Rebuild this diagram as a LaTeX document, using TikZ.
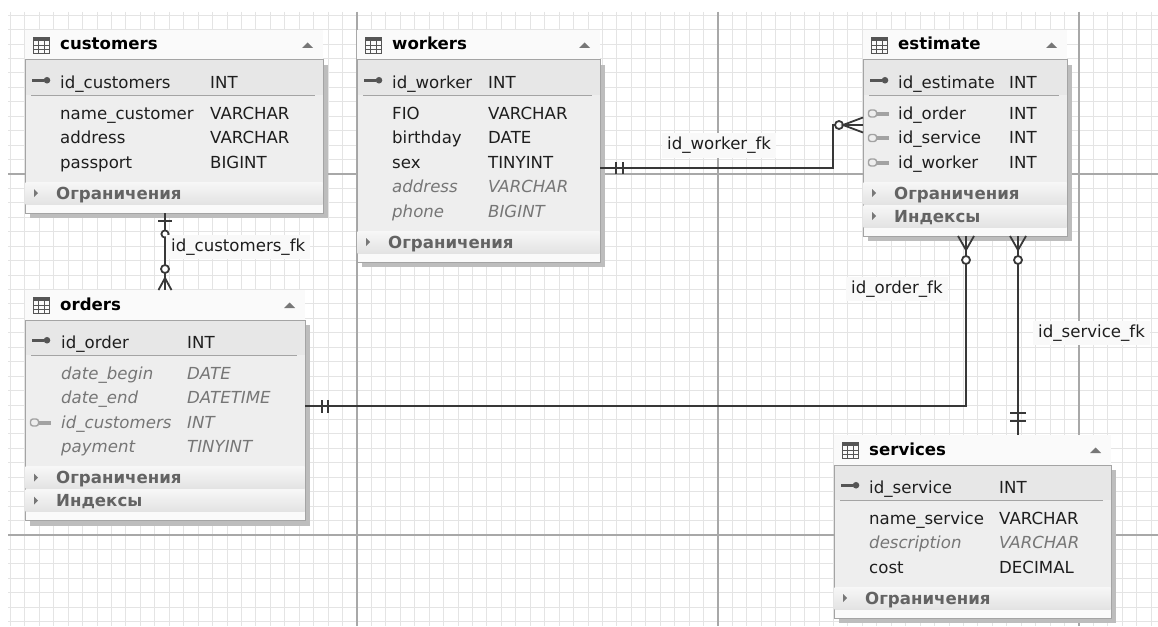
\documentclass[tikz,border=0pt]{standalone}
\usepackage{fontspec}
\setmainfont{DejaVu Sans}[ItalicFont={DejaVu Sans Oblique},BoldFont={DejaVu Sans Bold},BoldItalicFont={DejaVu Sans Bold Oblique}]
\usetikzlibrary{calc}
\definecolor{gridminor}{HTML}{E4E4E4}
\definecolor{gridmajor}{HTML}{A8A8A8}
\definecolor{tborder}{HTML}{A4A4A4}
\definecolor{tbodyc}{HTML}{EEEEEE}
\definecolor{tidrow}{HTML}{E7E7E7}
\definecolor{tshadowc}{HTML}{BDBDBD}
\definecolor{theadc}{HTML}{FAFAFA}
\definecolor{bandtop}{HTML}{F7F7F7}
\definecolor{bandbot}{HTML}{E3E3E3}
\definecolor{txt}{HTML}{1E1E1E}
\definecolor{txtgray}{HTML}{767676}
\definecolor{bandtxt}{HTML}{636363}
\definecolor{iconc}{HTML}{555555}
\definecolor{fkc}{HTML}{A2A2A2}
\definecolor{arrowc}{HTML}{777777}
\definecolor{linec}{HTML}{383838}
\definecolor{lblbg}{HTML}{F9F9F9}
\tikzset{
  fnt/.style={font=\fontsize{16.6}{20}\selectfont},
  fld/.style={inner sep=0, anchor=base west, text=txt, font=\fontsize{16.6}{20}\selectfont},
  fldi/.style={inner sep=0, anchor=base west, text=txtgray, font=\fontsize{16.6}{20}\selectfont\itshape},
  ttl/.style={inner sep=0, anchor=base west, text=black, font=\fontsize{16.6}{20}\selectfont\bfseries},
  bnd/.style={inner sep=0, anchor=base west, text=bandtxt, font=\fontsize{16.6}{20}\selectfont\bfseries},
  headbox/.style={fill=theadc, inner sep=0, outer sep=0, minimum height=30pt, anchor=north west},
  bodybox/.style={draw=tborder, fill=tbodyc, line width=1, inner sep=0, outer sep=0, anchor=north west},
  conn/.style={draw=linec, line width=1.8},
  lbl/.style={fill=lblbg, text=txt, inner xsep=5, inner ysep=4, anchor=west, font=\fontsize{16.6}{20}\selectfont},
}
% table icon in header
\newcommand\tabicon[2]{%
  \fill[iconc] ({#1+8},{#2+7}) rectangle ({#1+25},{#2+11});
  \draw[iconc, line width=1] ({#1+8.5},{#2+7.5}) rectangle ({#1+24.5},{#2+23.5});
  \draw[iconc, line width=0.9] ({#1+13.8},{#2+11}) -- ({#1+13.8},{#2+23}) ({#1+19.2},{#2+11}) -- ({#1+19.2},{#2+23})
     ({#1+8.5},{#2+15.3}) -- ({#1+24.5},{#2+15.3}) ({#1+8.5},{#2+19.4}) -- ({#1+24.5},{#2+19.4});
}
% #1 name #2 x #3 y #4 w #5 bottom #6 title
\newcommand\tframe[6]{%
  \pgfmathsetmacro\tbh{#5-#3-30}%
  \fill[tshadowc] ({#2+5},{#3+35}) rectangle ({#2+#4+5},{#5+5});
  \node[headbox, minimum width=#4pt] (#1-h) at (#2,#3) {};
  \node[bodybox, minimum width=#4pt, minimum height=\tbh pt] (#1) at (#2,{#3+30}) {};
  \fill[tidrow] ({#2+0.5},{#3+30.5}) rectangle ({#2+#4-0.5},{#3+65});
  \draw[tborder, line width=1] ({#2+6},{#3+65}) -- ({#2+#4-8},{#3+65});
  \fill[white!98!black] ({#2+0.5},{#5-9}) rectangle ({#2+#4-0.5},{#5-0.5});
  \tabicon{#2}{#3}
  \node[ttl] (#1-title) at ({#2+35},{#3+20}) {#6};
  \fill[arrowc] ({#2+#4-21},{#3+18}) -- ({#2+#4-10},{#3+18}) -- ({#2+#4-15.5},{#3+12.5}) -- cycle;
}
% #1 name #2 x #3 w #4 top #5 text
\newcommand\tband[5]{%
  \shade[top color=bandtop, bottom color=bandbot] ({#2+0.5},#4) rectangle ({#2+#3-0.5},{#4+22});
  \fill[arrowc] ({#2+9},{#4+7}) -- ({#2+13},{#4+11}) -- ({#2+9},{#4+15}) -- cycle;
  \node[bnd] (#1) at ({#2+31},{#4+17}) {#5};
}
\newcommand\frow[7][fld]{\node[#1] (#2-n) at (#3,#5) {#6}; \node[#1] (#2-t) at (#4,#5) {#7};}
\newcommand\pkicon[2]{\fill[iconc] (#1,{#2-9}) rectangle ({#1+12},{#2-6.5}); \fill[iconc] ({#1+15},{#2-7.75}) circle (3.3);}
\newcommand\fkicon[2]{\draw[fkc, line width=1.4, rounded corners=2.5] (#1,{#2-9}) rectangle ({#1+8},{#2-2}); \fill[fkc] ({#1+8},{#2-7.5}) rectangle ({#1+20},{#2-3.5});}

\begin{document}
\begin{tikzpicture}[x=1pt,y=-1pt]
\useasboundingbox (0,0) rectangle (1158,626);
\fill[white] (0,0) rectangle (1158,626);
% grid
\begin{scope}
\clip (8,12) rectangle (1158,626);
\foreach \i in {-24,...,55} \draw[gridminor, line width=1] ({357+14.44*\i},12) -- ({357+14.44*\i},626);
\foreach \i in {-11,...,31} \draw[gridminor, line width=1] (8,{174+14.44*\i}) -- (1158,{174+14.44*\i});
\foreach \xx in {357,718,1079} \draw[gridmajor, line width=1.2] (\xx,12) -- (\xx,626);
\foreach \yy in {174,535} \draw[gridmajor, line width=1.2] (8,\yy) -- (1158,\yy);
\end{scope}

% customers
\tframe{cust}{25}{30}{298}{213}{customers}
\pkicon{32}{88}
\frow{cust-r0}{60}{210}{88}{id\_customers}{INT}
\frow{cust-r1}{60}{210}{119}{name\_customer}{VARCHAR}
\frow{cust-r2}{60}{210}{143.5}{address}{VARCHAR}
\frow{cust-r3}{60}{210}{168}{passport}{BIGINT}
\tband{cust-b1}{25}{298}{182}{Ограничения}

% workers
\tframe{work}{357}{30}{243}{262}{workers}
\pkicon{364}{88}
\frow{work-r0}{392}{488}{88}{id\_worker}{INT}
\frow{work-r1}{392}{488}{119}{FIO}{VARCHAR}
\frow{work-r2}{392}{488}{143.5}{birthday}{DATE}
\frow{work-r3}{392}{488}{168}{sex}{TINYINT}
\frow[fldi]{work-r4}{392}{488}{192.5}{address}{VARCHAR}
\frow[fldi]{work-r5}{392}{488}{217}{phone}{BIGINT}
\tband{work-b1}{357}{243}{231}{Ограничения}

% estimate
\tframe{est}{863}{30}{204}{236}{estimate}
\pkicon{870}{88}
\frow{est-r0}{898}{1009}{88}{id\_estimate}{INT}
\fkicon{868.5}{119}
\frow{est-r1}{898}{1009}{119}{id\_order}{INT}
\fkicon{868.5}{143.5}
\frow{est-r2}{898}{1009}{143.5}{id\_service}{INT}
\fkicon{868.5}{168}
\frow{est-r3}{898}{1009}{168}{id\_worker}{INT}
\tband{est-b1}{863}{204}{182}{Ограничения}
\tband{est-b2}{863}{204}{205}{Индексы}

% orders
\tframe{ord}{25}{290}{280}{520.5}{orders}
\pkicon{32}{348}
\frow{ord-r0}{61}{187}{348}{id\_order}{INT}
\frow[fldi]{ord-r1}{61}{187}{379}{date\_begin}{DATE}
\frow[fldi]{ord-r2}{61}{187}{403.5}{date\_end}{DATETIME}
\fkicon{30.5}{428}
\frow[fldi]{ord-r3}{61}{187}{428}{id\_customers}{INT}
\frow[fldi]{ord-r4}{61}{187}{452.5}{payment}{TINYINT}
\tband{ord-b1}{25}{280}{466.5}{Ограничения}
\tband{ord-b2}{25}{280}{489.5}{Индексы}

% services
\tframe{serv}{834}{435}{277}{618}{services}
\pkicon{841}{493}
\frow{serv-r0}{869}{999}{493}{id\_service}{INT}
\frow{serv-r1}{869}{999}{524}{name\_service}{VARCHAR}
\frow[fldi]{serv-r2}{869}{999}{548.5}{description}{VARCHAR}
\frow{serv-r3}{869}{999}{573}{cost}{DECIMAL}
\tband{serv-b1}{834}{277}{587}{Ограничения}

% connector customers - orders
\coordinate (k1) at (165,0);
\draw[conn] (cust.south -| k1) -- (ord-h.north -| k1);
\draw[conn] (158,221) -- (172,221);
\draw[conn, fill=white] (165,234) circle (3.6);
\draw[conn, fill=white] (165,269) circle (4);
\draw[conn] (158.5,290) -- (165,278) -- (171.5,290);

% connector workers - estimate
\coordinate (k2a) at (833,168);
\coordinate (k2b) at (833,125);
\draw[conn] (work.east |- k2a) -- (k2a) -- (k2b) -- (est.west |- k2b);
\draw[conn] (616,162) -- (616,174) (623,162) -- (623,174);
\draw[conn, fill=white] (839,125) circle (4);
\draw[conn] (863,117.5) -- (843,125) -- (863,132.5);

% connector estimate - orders
\coordinate (k3) at (966,406);
\draw[conn] (est.south -| k3) -- (k3) -- (ord.east |- k3);
\draw[conn] (958,236) -- (966,250) -- (974,236);
\draw[conn, fill=white] (966,260) circle (4);
\draw[conn] (322,400) -- (322,413) (328,400) -- (328,413);

% connector estimate - services
\coordinate (k4) at (1018,0);
\draw[conn] (est.south -| k4) -- (serv-h.north -| k4);
\draw[conn] (1010,236) -- (1018,250) -- (1026,236);
\draw[conn, fill=white] (1018,260) circle (4);
\draw[conn] (1010,413) -- (1026,413) (1010,421) -- (1026,421);

% labels
\node[lbl] (l-cust) at (166,247) {id\_customers\_fk};
\node[lbl] (l-work) at (662,145.5) {id\_worker\_fk};
\node[lbl] (l-ord) at (846,289) {id\_order\_fk};
\node[lbl] (l-serv) at (1033,333) {id\_service\_fk};
\end{tikzpicture}
\end{document}
